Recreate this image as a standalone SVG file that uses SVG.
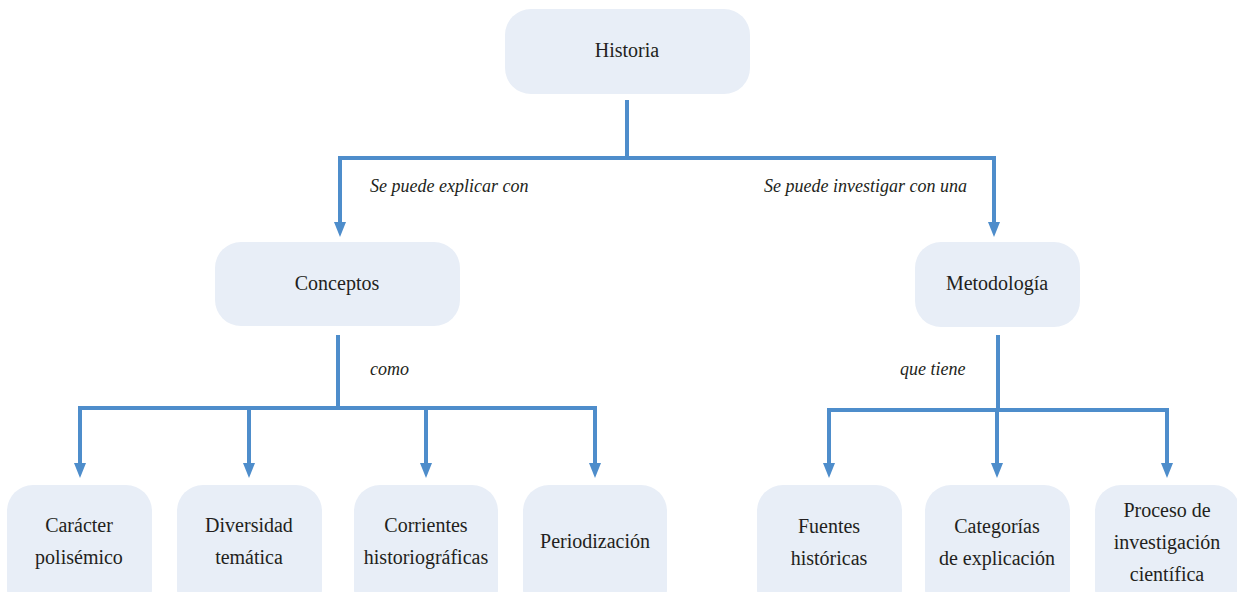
<svg xmlns="http://www.w3.org/2000/svg" width="1237" height="592" viewBox="0 0 1237 592">
<style>
.box{fill:#E8EEF7;}
.t{font-size:20px;fill:#231F20;text-anchor:middle;}
.lbl{font-size:18px;font-style:italic;fill:#231F20;}
.ln{stroke:#4E8DCB;stroke-width:4;fill:none;}
.ah{fill:#4E8DCB;}
</style>
<g id="connectors">
<line class="ln" x1="627" y1="100" x2="627" y2="158"/>
<path class="ln" d="M338,158 H996"/>
<path d="M340,158 V222" class="ln"/>
<path class="ah" d="M334,222 L346,222 L340,237 Z"/>
<path d="M994,158 V222" class="ln"/>
<path class="ah" d="M988,222 L1000,222 L994,237 Z"/>
<line class="ln" x1="338" y1="335" x2="338" y2="408"/>
<path class="ln" d="M78,408 H597"/>
<path class="ln" d="M80,408 V463"/><path class="ah" d="M74,463 L86,463 L80,478 Z"/>
<path class="ln" d="M249,408 V463"/><path class="ah" d="M243,463 L255,463 L249,478 Z"/>
<path class="ln" d="M426,408 V463"/><path class="ah" d="M420,463 L432,463 L426,478 Z"/>
<path class="ln" d="M595,408 V463"/><path class="ah" d="M589,463 L601,463 L595,478 Z"/>
<line class="ln" x1="998" y1="335" x2="998" y2="410"/>
<path class="ln" d="M827,410 H1169"/>
<path class="ln" d="M829,410 V463"/><path class="ah" d="M823,463 L835,463 L829,478 Z"/>
<path class="ln" d="M997,410 V463"/><path class="ah" d="M991,463 L1003,463 L997,478 Z"/>
<path class="ln" d="M1167,410 V463"/><path class="ah" d="M1161,463 L1173,463 L1167,478 Z"/>
</g>
<g id="labels" font-family="Liberation Serif, serif">
<text class="lbl" x="370" y="192">Se puede explicar con</text>
<text class="lbl" x="764" y="192">Se puede investigar con una</text>
<text class="lbl" x="370" y="375">como</text>
<text class="lbl" x="900" y="375">que tiene</text>
</g>
<g font-family="Liberation Serif, serif">
<g id="historia"><rect class="box" x="505" y="9" width="245" height="85" rx="26"/><text class="t" x="627" y="57">Historia</text></g>
<g id="conceptos"><rect class="box" x="215" y="242" width="245" height="84" rx="26"/><text class="t" x="337" y="290">Conceptos</text></g>
<g id="metodologia"><rect class="box" x="915" y="242" width="165" height="85" rx="26"/><text class="t" x="997" y="290">Metodología</text></g>
<g id="caracter"><rect class="box" x="7" y="485" width="145" height="130" rx="26"/><text class="t" x="79" y="532">Carácter</text><text class="t" x="79" y="564">polisémico</text></g>
<g id="diversidad"><rect class="box" x="177" y="485" width="145" height="130" rx="26"/><text class="t" x="249" y="532">Diversidad</text><text class="t" x="249" y="564">temática</text></g>
<g id="corrientes"><rect class="box" x="354" y="485" width="144" height="130" rx="26"/><text class="t" x="426" y="532">Corrientes</text><text class="t" x="426" y="564">historiográficas</text></g>
<g id="periodizacion"><rect class="box" x="523" y="485" width="144" height="130" rx="26"/><text class="t" x="595" y="548">Periodización</text></g>
<g id="fuentes"><rect class="box" x="757" y="485" width="145" height="130" rx="26"/><text class="t" x="829" y="533">Fuentes</text><text class="t" x="829" y="565">históricas</text></g>
<g id="categorias"><rect class="box" x="925" y="485" width="145" height="130" rx="26"/><text class="t" x="997" y="533">Categorías</text><text class="t" x="997" y="565">de explicación</text></g>
<g id="proceso"><rect class="box" x="1095" y="485" width="145" height="130" rx="26"/><text class="t" x="1167" y="517">Proceso de</text><text class="t" x="1167" y="549">investigación</text><text class="t" x="1167" y="581">científica</text></g>
</g>
</svg>
